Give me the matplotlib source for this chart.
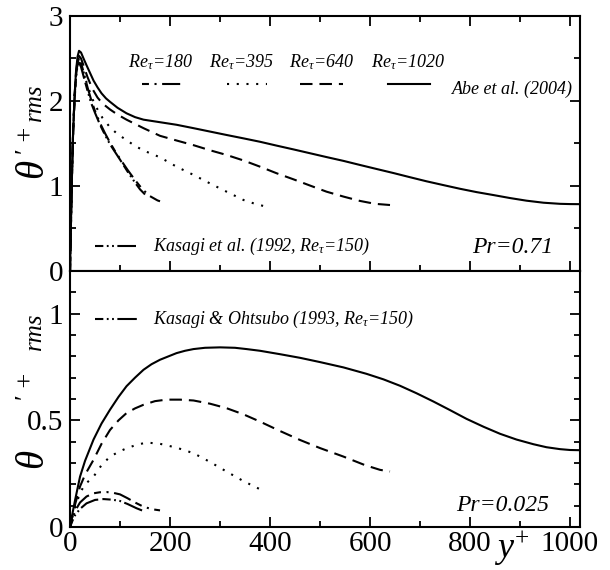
import matplotlib
matplotlib.use("Agg")
import matplotlib.pyplot as plt
from matplotlib.ticker import MultipleLocator, FuncFormatter

plt.rcParams["font.family"] = "serif"
plt.rcParams["font.serif"] = ["Liberation Serif", "DejaVu Serif"]
plt.rcParams["mathtext.fontset"] = "custom"
plt.rcParams["mathtext.rm"] = "Liberation Serif"
plt.rcParams["mathtext.it"] = "Liberation Serif:italic"
plt.rcParams["lines.scale_dashes"] = False

# === Pr = 0.71 (top) ===
top_x1020 = [0, 2, 4, 6, 9, 12, 15, 18, 22, 27, 33, 40, 47, 55, 63, 72, 80, 95, 113, 130, 147,
             180, 213, 247, 280, 313, 347, 380, 413, 447, 480, 513, 547, 580, 613, 647, 680,
             713, 747, 780, 813, 847, 880, 913, 947, 980, 1000, 1020]
top_y1020 = [0, 0.6, 1.15, 1.6, 2.05, 2.35, 2.52, 2.59, 2.57, 2.5, 2.42, 2.33, 2.24, 2.16, 2.09,
             2.03, 1.99, 1.92, 1.855, 1.81, 1.78, 1.75, 1.72, 1.68, 1.64, 1.60, 1.56, 1.52,
             1.475, 1.43, 1.385, 1.34, 1.295, 1.247, 1.20, 1.152, 1.103, 1.055, 1.01, 0.967,
             0.928, 0.893, 0.858, 0.827, 0.803, 0.79, 0.787, 0.786]
top_x640 = [0, 2, 4, 6, 9, 12, 15, 18, 22, 28, 35, 45, 55, 65, 80, 95, 113, 130, 147, 180, 213,
            247, 280, 313, 347, 380, 413, 447, 480, 513, 547, 580, 610, 640]
top_y640 = [0, 0.6, 1.15, 1.6, 2.05, 2.33, 2.48, 2.53, 2.5, 2.4, 2.28, 2.14, 2.04, 1.97, 1.90,
            1.84, 1.78, 1.73, 1.68, 1.59, 1.535, 1.48, 1.42, 1.365, 1.30, 1.227, 1.15, 1.078,
            1.005, 0.933, 0.875, 0.824, 0.79, 0.776]
top_x395 = [0, 2, 4, 6, 9, 12, 15, 18, 22, 28, 35, 45, 55, 65, 80, 95, 113, 130, 150, 180, 213,
            247, 280, 313, 347, 370, 390]
top_y395 = [0, 0.6, 1.15, 1.6, 2.05, 2.3, 2.44, 2.48, 2.44, 2.32, 2.18, 2.02, 1.9, 1.8, 1.69,
            1.61, 1.54, 1.47, 1.41, 1.337, 1.227, 1.13, 1.03, 0.933, 0.835, 0.79, 0.76]
top_x180 = [0, 2, 4, 6, 9, 12, 15, 18, 22, 28, 35, 42, 50, 60, 70, 80, 90, 100, 115, 130, 145,
            160, 175, 180]
top_y180 = [0, 0.6, 1.15, 1.6, 2.03, 2.3, 2.45, 2.5, 2.45, 2.32, 2.16, 2.02, 1.88, 1.74, 1.62,
            1.51, 1.41, 1.32, 1.19, 1.07, 0.96, 0.88, 0.83, 0.82]
top_xkas = [0, 2, 4, 6, 9, 12, 15, 18, 22, 28, 35, 42, 50, 60, 70, 80, 90, 100, 115, 130, 140, 150]
top_ykas = [0, 0.6, 1.15, 1.6, 2.0, 2.28, 2.42, 2.45, 2.4, 2.27, 2.12, 1.98, 1.86, 1.72, 1.6,
            1.49, 1.4, 1.31, 1.17, 1.04, 0.96, 0.90]

# === Pr = 0.025 (bottom) ===
bot_x1020 = [0, 5, 10, 20, 30, 47, 63, 80, 97, 113, 130, 147, 163, 180, 197, 213, 230, 247, 270,
             300, 330, 353, 380, 420, 460, 500, 547, 593, 627, 660, 693, 727, 760, 793, 827,
             860, 893, 927, 953, 980, 1000, 1020]
bot_y1020 = [0, 0.065, 0.125, 0.236, 0.31, 0.41, 0.485, 0.55, 0.61, 0.66, 0.70, 0.737, 0.763,
             0.784, 0.80, 0.815, 0.826, 0.834, 0.84, 0.842, 0.84, 0.834, 0.826, 0.81, 0.793,
             0.773, 0.748, 0.718, 0.692, 0.662, 0.627, 0.588, 0.548, 0.507, 0.47, 0.437, 0.41,
             0.388, 0.374, 0.365, 0.361, 0.36]
bot_x640 = [0, 5, 10, 20, 30, 47, 63, 80, 97, 113, 130, 147, 170, 193, 220, 247, 280, 313, 347,
            380, 420, 460, 500, 547, 590, 620, 640]
bot_y640 = [0, 0.055, 0.105, 0.19, 0.245, 0.315, 0.39, 0.455, 0.5, 0.534, 0.556, 0.573, 0.59,
            0.597, 0.597, 0.593, 0.578, 0.557, 0.528, 0.494, 0.45, 0.408, 0.37, 0.33, 0.29,
            0.268, 0.26]
bot_x395 = [0, 5, 10, 20, 30, 47, 63, 80, 97, 113, 133, 153, 180, 213, 247, 280, 313, 347, 380, 390]
bot_y395 = [0, 0.05, 0.09, 0.16, 0.2, 0.236, 0.29, 0.33, 0.352, 0.369, 0.385, 0.396, 0.39,
            0.372, 0.346, 0.305, 0.26, 0.215, 0.177, 0.17]
bot_x180 = [0, 5, 10, 20, 33, 47, 60, 73, 87, 100, 115, 130, 147, 165, 180]
bot_y180 = [0, 0.04, 0.075, 0.115, 0.143, 0.158, 0.163, 0.164, 0.16, 0.153, 0.135, 0.115,
            0.095, 0.083, 0.078]
bot_xkas = [0, 5, 10, 20, 33, 50, 67, 85, 100, 115, 133, 150]
bot_ykas = [0, 0.03, 0.055, 0.085, 0.111, 0.127, 0.131, 0.128, 0.122, 0.108, 0.088, 0.072]

re_labels = ["180", "395", "640", "1020"]

# line styles (dash lengths in points)
ls180 = (0, (5, 4, 1.5, 4, 13, 4))
ls395 = (0, (1.5, 5.5))
ls640 = (0, (9, 5))
ls1020 = "-"
lskas = (0, (6, 2.5, 1.3, 2.5, 1.3, 2.5, 14, 3))
styles = [ls180, ls395, ls640, ls1020]
LW = 1.5

fig = plt.figure(figsize=(6.1, 5.7), dpi=100)
ax1 = fig.add_axes([0.1148, 0.5246, 0.836, 0.4474])
ax2 = fig.add_axes([0.1148, 0.0754, 0.836, 0.4492])

ax1.plot(top_xkas, top_ykas, color="black", lw=LW, linestyle=lskas)
ax1.plot(top_x180, top_y180, color="black", lw=LW, linestyle=ls180)
ax1.plot(top_x395, top_y395, color="black", lw=LW, linestyle=ls395)
ax1.plot(top_x640, top_y640, color="black", lw=LW, linestyle=ls640)
ax1.plot(top_x1020, top_y1020, color="black", lw=LW, linestyle=ls1020)

ax2.plot(bot_xkas, bot_ykas, color="black", lw=LW, linestyle=lskas)
ax2.plot(bot_x180, bot_y180, color="black", lw=LW, linestyle=ls180)
ax2.plot(bot_x395, bot_y395, color="black", lw=LW, linestyle=ls395)
ax2.plot(bot_x640, bot_y640, color="black", lw=LW, linestyle=ls640)
ax2.plot(bot_x1020, bot_y1020, color="black", lw=LW, linestyle=ls1020)

for ax in (ax1, ax2):
    ax.set_xlim(0, 1020)
    ax.xaxis.set_major_locator(MultipleLocator(200))
    ax.xaxis.set_minor_locator(MultipleLocator(100))
    ax.tick_params(which="both", direction="in", right=True, width=1.3, labelsize=21, pad=5)
    ax.tick_params(which="major", length=7)
    ax.tick_params(which="minor", length=4.5)
    for s in ax.spines.values():
        s.set_linewidth(1.5)


def ylabel_parts(ax, y_theta, y_prime, y_rms):
    # theta'^+_rms split in pieces so that the tick labels sit in the gaps
    ax.text(-0.070, y_theta, r"$\theta$", transform=ax.transAxes, rotation=90,
            ha="center", va="center", fontsize=28)
    ax.text(-0.084, y_prime, "\u2032 +", transform=ax.transAxes, rotation=90,
            ha="center", va="center", fontsize=19,
            family=["Liberation Serif", "DejaVu Serif"])
    ax.text(-0.068, y_rms, "rms", transform=ax.transAxes, rotation=90,
            ha="center", va="center", fontsize=18, style="italic")


ylabel_parts(ax1, 0.396, 0.514, 0.66)
ylabel_parts(ax2, 0.262, 0.551, 0.766)

ax1.set_ylim(0, 3)
ax1.yaxis.set_major_locator(MultipleLocator(1))
ax1.yaxis.set_minor_locator(MultipleLocator(0.5))
ax1.tick_params(which="both", top=True, labelbottom=False)

ax2.set_ylim(0, 1.2)
ax2.yaxis.set_major_locator(MultipleLocator(0.5))
ax2.yaxis.set_minor_locator(MultipleLocator(0.1))
ax2.yaxis.set_major_formatter(FuncFormatter(lambda v, p: f"{v:g}"))
ax2.tick_params(which="both", top=False)
ax2.tick_params(axis="x", pad=3)

# legend in top panel: text over line sample
leg_text_x = [0.178, 0.335, 0.494, 0.663]
leg_line_x = [(0.141, 0.222), (0.308, 0.386), (0.451, 0.535), (0.624, 0.706)]
for lab, tx, (x0, x1), st in zip(re_labels, leg_text_x, leg_line_x, styles):
    ax1.text(tx, 0.82, r"$Re_{\tau}$=" + lab, transform=ax1.transAxes, ha="center",
             va="center", fontsize=13, style="italic")
    ax1.plot([x0, x1], [0.733, 0.733], transform=ax1.transAxes, color="black", lw=LW,
             linestyle=st)
ax1.text(0.749, 0.714, "Abe et al. (2004)", transform=ax1.transAxes, ha="left",
         va="center", fontsize=13, style="italic")

ax1.plot([0.049, 0.129], [0.098, 0.098], transform=ax1.transAxes, color="black", lw=LW,
         linestyle=lskas)
ax1.text(0.163, 0.098, r"Kasagi et al. (1992, $Re_{\tau}$=150)", transform=ax1.transAxes,
         ha="left", va="center", fontsize=13, style="italic")
ax1.text(0.947, 0.094, "Pr=0.71", transform=ax1.transAxes, ha="right", va="center",
         fontsize=17, style="italic")

ax2.plot([0.049, 0.131], [0.8125, 0.8125], transform=ax2.transAxes, color="black", lw=LW,
         linestyle=lskas)
ax2.text(0.163, 0.8125, r"Kasagi & Ohtsubo (1993, $Re_{\tau}$=150)", transform=ax2.transAxes,
         ha="left", va="center", fontsize=13, style="italic")
ax2.text(0.94, 0.086, "Pr=0.025", transform=ax2.transAxes, ha="right", va="center",
         fontsize=17, style="italic")

ax2.text(0.867, -0.085, r"$y^{+}$", transform=ax2.transAxes, ha="center", va="center",
         fontsize=26)

fig.savefig("out.png", dpi=100, facecolor="white")
